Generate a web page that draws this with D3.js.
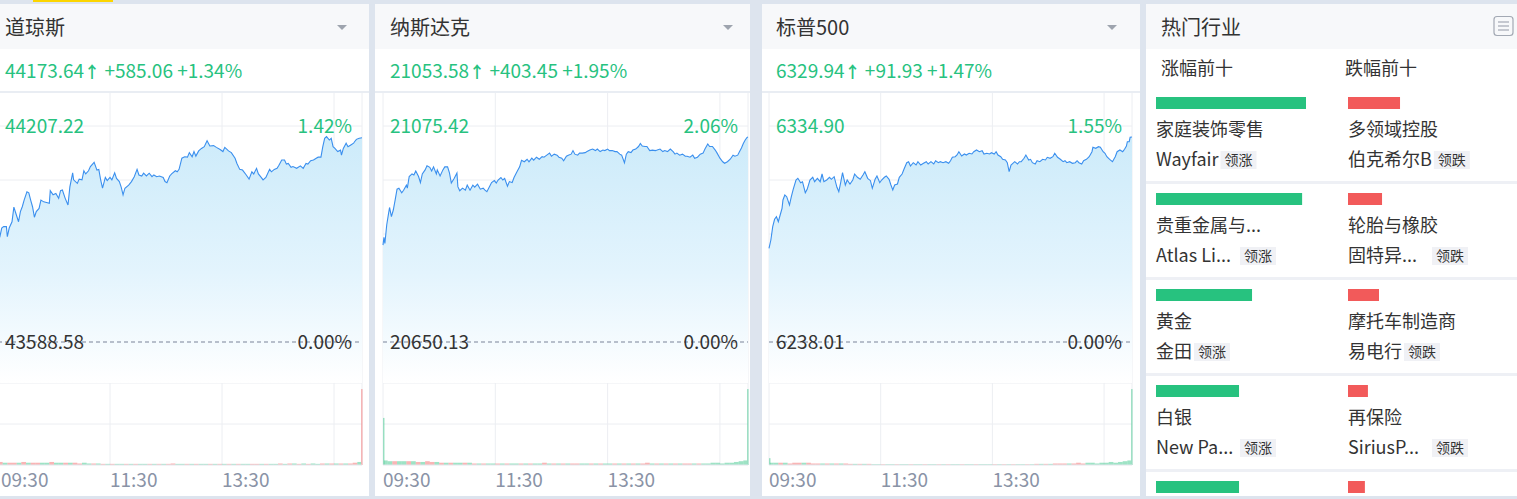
<!DOCTYPE html>
<html><head><meta charset="utf-8">
<script src="https://cdn.jsdelivr.net/npm/d3@7"></script>
<style>
body{margin:0;background:#dde4ee;overflow:hidden}
svg{display:block}
text{font-family:"Noto Sans CJK SC","Noto Sans",sans-serif;white-space:pre}
</style></head>
<body><svg id="c" width="1517" height="499"></svg>
<script>
// ---------------- DATA ----------------
const indexNames = ["道琼斯", "纳斯达克", "标普500"];
const prevClose = [43588.58, 20650.13, 6238.01];
const lastPrice = [44173.64, 21053.58, 6329.94];
const changeAbs = [585.06, 403.45, 91.93];
const changePct = [1.34, 1.95, 1.47];
const scaleMax = [44207.22, 21075.42, 6334.90];
const scaleMaxPct = [1.42, 2.06, 1.55];
const timeTickLabels = ["09:30", "11:30", "13:30"];
const gridMinutes = [120, 240, 360];
const sessionMinutes = 390;

// [minute from 09:30, price]
const dowSeries = [[0,43880],[2,43890],[4,43915],[6,43919],[9,43919],[10,43890],[12,43915],[15,43933],[17,43975],[19,43958],[22,43933],[24,43962],[26,43976],[28,43995],[31,44019],[33,44016],[35,43995],[37,43976],[39,43946],[41,43962],[44,43971],[46,43995],[49,43990],[52,43988],[55,43986],[56,44022],[59,44010],[62,44014],[65,44000],[67,44022],[69,44024],[72,44000],[75,43981],[77,44033],[80,44073],[81,44053],[85,44043],[87,44055],[90,44053],[92,44079],[94,44070],[97,44079],[99,44091],[103,44103],[106,44081],[108,44083],[110,44053],[112,44029],[115,44060],[117,44051],[120,44060],[122,44053],[125,44073],[127,44057],[130,44048],[132,44032],[134,44010],[136,44029],[140,44038],[143,44048],[146,44062],[149,44083],[151,44067],[154,44064],[156,44072],[159,44064],[162,44072],[165,44062],[167,44067],[170,44062],[173,44064],[177,44060],[179,44048],[181,44045],[184,44064],[186,44070],[190,44079],[192,44076],[194,44083],[197,44115],[200,44119],[203,44118],[205,44131],[208,44119],[210,44134],[212,44121],[215,44136],[218,44143],[221,44148],[224,44165],[227,44150],[231,44151],[234,44146],[238,44140],[241,44134],[243,44146],[247,44136],[250,44131],[254,44115],[256,44100],[259,44083],[262,44081],[266,44067],[269,44055],[272,44076],[274,44070],[277,44086],[279,44070],[282,44060],[284,44053],[287,44060],[291,44083],[293,44076],[296,44083],[299,44086],[301,44095],[304,44110],[307,44110],[309,44098],[311,44100],[314,44089],[316,44091],[320,44086],[324,44093],[327,44086],[330,44100],[332,44098],[335,44108],[338,44110],[341,44115],[343,44118],[346,44118],[348,44148],[350,44172],[352,44177],[355,44167],[357,44172],[359,44148],[361,44143],[364,44134],[367,44138],[368,44124],[370,44143],[373,44158],[375,44148],[378,44153],[381,44158],[382,44162],[384,44169],[387,44172],[390,44173.64]];

const ndxSeries = [[0,20841],[1,20856],[2,20844],[4,20881],[6,20904],[7,20915],[9,20897],[11,20910],[13,20930],[15,20951],[17,20953],[20,20944],[22,20949],[25,20959],[26,20953],[28,20976],[31,20981],[33,20979],[35,20987],[38,20976],[40,20964],[42,20981],[45,20989],[47,20997],[50,20994],[52,20987],[54,20995],[57,20981],[58,20989],[61,20977],[64,20989],[66,20995],[69,20995],[71,20983],[73,20963],[76,20972],[79,20983],[80,20956],[82,20948],[85,20953],[88,20949],[90,20959],[93,20949],[96,20959],[98,20955],[101,20961],[104,20951],[107,20953],[109,20949],[111,20946],[114,20957],[116,20964],[119,20968],[121,20963],[123,20969],[126,20974],[128,20969],[130,20972],[133,20957],[135,20966],[138,20964],[140,20974],[143,20985],[146,20995],[148,21008],[151,21005],[154,21010],[156,21005],[159,21012],[161,21008],[164,21014],[167,21010],[170,21015],[172,21014],[175,21018],[178,21022],[180,21016],[183,21020],[186,21018],[188,21014],[191,21012],[193,21007],[196,21016],[198,21018],[201,21020],[203,21027],[205,21020],[208,21018],[210,21022],[213,21022],[216,21023],[218,21025],[221,21028],[224,21030],[227,21027],[229,21030],[232,21025],[235,21028],[237,21027],[240,21030],[242,21027],[245,21027],[248,21025],[250,21025],[253,21020],[255,21018],[258,21003],[260,21020],[262,21025],[265,21023],[267,21028],[270,21030],[273,21035],[275,21041],[277,21036],[280,21035],[282,21035],[285,21027],[288,21028],[291,21027],[293,21028],[296,21030],[299,21025],[301,21027],[304,21025],[307,21030],[310,21025],[312,21020],[314,21022],[317,21018],[320,21020],[323,21016],[325,21016],[328,21014],[331,21018],[333,21012],[336,21014],[339,21020],[342,21022],[344,21030],[347,21040],[349,21035],[352,21035],[355,21028],[357,21022],[360,21012],[363,21005],[365,21002],[368,21005],[371,21010],[374,21018],[376,21016],[379,21018],[381,21025],[383,21032],[385,21041],[387,21048],[389,21053],[390,21053.58]];

const spxSeries = [[0,6280.04],[2,6283.76],[4,6289.73],[6,6293.05],[8,6294.21],[10,6291.97],[12,6294.98],[14,6297.98],[15,6301.71],[17,6303.95],[19,6303.19],[22,6299.46],[24,6303.19],[26,6306.50],[29,6310.68],[31,6311.44],[34,6309.47],[36,6309.91],[39,6304.98],[41,6306.50],[44,6310.68],[47,6311.89],[49,6309.91],[52,6311.44],[55,6309.91],[57,6313.37],[59,6309.91],[62,6310.68],[65,6311.89],[67,6310.99],[70,6312.16],[73,6307.40],[75,6305.43],[77,6309.47],[79,6313.95],[82,6308.43],[84,6310.68],[87,6308.88],[90,6310.68],[92,6313.37],[95,6311.89],[98,6310.99],[101,6312.92],[103,6314.40],[106,6311.44],[109,6310.36],[111,6306.95],[114,6310.99],[116,6312.47],[119,6309.47],[121,6310.68],[124,6311.89],[126,6312.47],[129,6310.99],[131,6308.43],[133,6306.19],[135,6308.43],[138,6308.88],[140,6311.89],[143,6313.37],[145,6315.48],[148,6318.44],[150,6318.89],[152,6316.96],[155,6318.44],[158,6317.41],[160,6318.89],[163,6317.41],[166,6318.17],[169,6318.89],[171,6317.85],[174,6318.89],[177,6317.85],[179,6319.33],[182,6318.44],[184,6318.89],[187,6318.44],[190,6318.89],[193,6318.17],[195,6319.33],[197,6320.86],[200,6321.13],[202,6321.89],[204,6323.37],[207,6321.44],[210,6322.34],[212,6321.89],[215,6322.65],[218,6322.34],[220,6323.37],[223,6324.13],[226,6323.37],[229,6323.82],[231,6322.34],[234,6322.65],[237,6322.34],[239,6322.92],[242,6322.34],[244,6323.37],[246,6321.89],[249,6321.13],[251,6319.96],[254,6319.65],[256,6318.44],[258,6314.40],[260,6317.41],[262,6318.17],[264,6318.89],[267,6317.85],[269,6318.89],[271,6318.89],[274,6320.41],[276,6321.89],[279,6319.65],[281,6319.96],[283,6318.44],[286,6317.85],[288,6319.33],[291,6318.89],[294,6319.96],[297,6319.65],[299,6320.86],[302,6320.41],[305,6321.13],[307,6322.65],[310,6320.86],[313,6319.96],[316,6318.89],[318,6319.33],[320,6318.44],[323,6318.89],[326,6318.17],[329,6318.44],[331,6319.33],[333,6318.44],[336,6317.85],[338,6319.33],[341,6319.96],[344,6321.13],[347,6323.37],[348,6325.34],[351,6324.90],[354,6325.61],[356,6325.34],[359,6323.37],[361,6322.65],[363,6321.13],[366,6319.96],[369,6318.89],[372,6321.13],[374,6323.37],[377,6324.13],[380,6323.37],[382,6324.45],[384,6325.93],[385,6327.86],[387,6327.86],[388,6329.83],[390,6329.94]];

// volume slots (minute from open); signed volume: + up (green), - down (red)
const volMinutes = [0,1,5,10,15,20,25,30,35,40,45,50,55,60,65,70,75,80,85,90,95,100,105,110,115,120,125,130,135,140,145,150,155,160,165,170,175,180,185,190,195,200,205,210,215,220,225,230,235,240,245,250,255,260,265,270,275,280,285,290,295,300,305,310,315,320,325,330,335,340,345,350,355,360,365,370,375,380,385,389];
const dowVolume = [4,-4,3,-3,-3,3,-4,3,-3,-3, 3,3,-4,3,3,-3,3,-3,-2,3, 2,-2,2,-1.5,1.5,-1.5,1.5,1.5,-1.5,1.5, -1.5,1.5,1.5,-1.5,1.5,-1.5,1.5,-1.5,-2,1.5, 1.5,-1.5,1.5,-1.5,1.5,1.5,-1.5,1.5,-1.5,1.5, -1.5,1.5,-1.5,1.5,1.5,-1.5,-1.5,1.5,-1.5,1.5, 1.5,-2,1.5,-2,2,-1.5,2,-1.5,2,1.5, -2,2,-2,2,-2,2,-2,-3,4,-100];
const ndxVolume = [62,6,5,-5,5,5,-5,5,-4,4, -5,-4,4,-3,3,-3,3,3,-3,3, -2,2,-2,2,2,-2,2,-2,2,2, -2,2,-2,2,2,-3,2,-2,2,-2, 2,-2,-2,2,2,-2,2,-2,2,2, -2,2,-2,2,-2,2,-2,-3,2,-2, 2,-2,2,-2,2,-2,-2,2,-2,2, 2,3,3,2,3,3,4,5,6,100];
const spxVolume = [9,3,3,-3,3,-2,-3,-3,3,-3, -2,-2,2,-2,2,-2,2,-2,-1.5,1.5, -1.5,1.5,-1.5,1,1,-1,1,1,-1,1, 1,-1,1,1,-1,1,1,-1,1,-1, 1,1,-1,1,1,-1,1,1,1,-1, 1,-1,1,-1,1,1,-1,1,-1.5,1.5, -1.5,1.5,-2,-2,-2,2,-2,-3,-2,3, 3,2,3,3,4,3,4,5,6,100];

// hot industries
const panelTitle = "热门行业";
const gainHeader = "涨幅前十";
const lossHeader = "跌幅前十";
const gainSectors = ["家庭装饰零售", "贵重金属与...", "黄金", "白银", ""];
const gainPct = [5.42, 5.28, 3.47, 3.00, 3.00];
const gainLeaders = ["Wayfair", "Atlas Li...", "金田", "New Pa...", ""];
const lossSectors = ["多领域控股", "轮胎与橡胶", "摩托车制造商", "再保险", ""];
const lossPct = [-1.88, -1.23, -1.12, -0.72, -0.61];
const lossLeaders = ["伯克希尔B", "固特异...", "易电行", "SiriusP...", ""];
const leadUpTag = "领涨";
const leadDownTag = "领跌";

// ---------------- DRAW ----------------
const svg = d3.select("#c");
const GREEN = "#27c27f", RED = "#f25a5a", BLUE = "#3a8fee", GRID = "#eceef2", DARK = "#333333";
const PT = 4, HEAD_B = 49, SEP_Y = 91, PRICE_TOP = 126, BASE_Y = 342, PRICE_BOT = 383, VOL_BOT = 465, PANEL_BOT = 496;
const layouts = [
  {px: -9, pw: 378, cl: -2, cr: 362},
  {px: 375, pw: 375, cl: 383, cr: 748},
  {px: 762, pw: 378, cl: 769, cr: 1132}
];
const seriesList = [dowSeries, ndxSeries, spxSeries];
const volList = [dowVolume, ndxVolume, spxVolume];

svg.append("rect").attr("x", 33).attr("y", 0).attr("width", 80).attr("height", 2).attr("fill", "#fcd500");

const defs = svg.append("defs");

indexNames.forEach((name, i) => {
  const L = layouts[i];
  const g = svg.append("g");
  g.append("rect").attr("x", L.px).attr("y", PT).attr("width", L.pw).attr("height", PANEL_BOT - PT).attr("fill", "#fff");
  g.append("rect").attr("x", L.px).attr("y", PT).attr("width", L.pw).attr("height", HEAD_B - PT).attr("fill", "#f7f8fa");
  g.append("rect").attr("x", L.px).attr("y", SEP_Y).attr("width", L.pw).attr("height", 2).attr("fill", "#e9edf3");

  g.append("text").attr("x", L.cl + 7).attr("y", 35).attr("font-size", 20).attr("fill", DARK).text(name);
  g.append("path").attr("d", `M${L.cr - 25},25 L${L.cr - 15},25 L${L.cr - 20},30 Z`).attr("fill", "#9ea4ae");

  const vt = g.append("text").attr("x", L.cl + 7).attr("y", 78).attr("font-size", 19).attr("fill", GREEN);
  vt.append("tspan").text(lastPrice[i].toFixed(2));
  vt.append("tspan").attr("font-weight", "bold").attr("font-size", 16).text("↑");
  vt.append("tspan").text(` +${changeAbs[i].toFixed(2)} +${changePct[i].toFixed(2)}%`);

  const x = d3.scaleLinear().domain([0, sessionMinutes]).range([L.cl, L.cr]);
  const y = d3.scaleLinear().domain([prevClose[i], scaleMax[i]]).range([BASE_Y, PRICE_TOP]);
  const vols = volList[i];
  const yv = d3.scaleLinear().domain([0, d3.max(vols, v => Math.abs(v)) * 1.08]).range([VOL_BOT, PRICE_BOT]);

  // grid
  const gy = [1, 0.75, 0.5, 0.25].map(f => y(prevClose[i] + f * (scaleMax[i] - prevClose[i])));
  [...gy, PRICE_BOT, (PRICE_BOT + VOL_BOT) / 2].forEach(yy => {
    g.append("line").attr("x1", L.cl).attr("x2", L.cr).attr("y1", yy).attr("y2", yy).attr("stroke", GRID);
  });
  [0, ...gridMinutes, sessionMinutes].forEach(m => {
    g.append("line").attr("x1", x(m)).attr("x2", x(m)).attr("y1", SEP_Y + 2).attr("y2", VOL_BOT).attr("stroke", GRID);
  });

  // area + line
  const gid = "grad" + i;
  const grad = defs.append("linearGradient").attr("id", gid).attr("x1", 0).attr("y1", 0).attr("x2", 0).attr("y2", 1);
  grad.append("stop").attr("offset", "0%").attr("stop-color", "#cdebfa");
  grad.append("stop").attr("offset", "55%").attr("stop-color", "#e3f4fd");
  grad.append("stop").attr("offset", "100%").attr("stop-color", "#ffffff");
  const data = seriesList[i];
  g.append("path").datum(data)
    .attr("d", d3.area().x(d => x(d[0])).y0(PRICE_BOT).y1(d => y(d[1])))
    .attr("fill", `url(#${gid})`);
  g.append("path").datum(data)
    .attr("d", d3.line().x(d => x(d[0])).y(d => y(d[1])))
    .attr("fill", "none").attr("stroke", BLUE).attr("stroke-width", 1.1);

  // baseline
  g.append("line").attr("x1", L.cl).attr("x2", L.cr).attr("y1", BASE_Y).attr("y2", BASE_Y)
    .attr("stroke", "#7a8399").attr("stroke-dasharray", "4,3");

  // labels
  g.append("text").attr("x", L.cl + 7).attr("y", 133).attr("font-size", 19).attr("fill", GREEN).text(scaleMax[i].toFixed(2));
  g.append("text").attr("x", L.cr - 10).attr("y", 133).attr("text-anchor", "end").attr("font-size", 19).attr("fill", GREEN).text(scaleMaxPct[i].toFixed(2) + "%");
  g.append("text").attr("x", L.cl + 7).attr("y", 349).attr("font-size", 19).attr("fill", DARK).text(prevClose[i].toFixed(2));
  g.append("text").attr("x", L.cr - 10).attr("y", 349).attr("text-anchor", "end").attr("font-size", 19).attr("fill", DARK).text("0.00%");

  // volume
  vols.forEach((v, k) => {
    const m0 = volMinutes[k];
    const m1 = k < volMinutes.length - 1 ? volMinutes[k + 1] : sessionMinutes;
    const w = Math.max(x(m1) - x(m0), 1.5);
    g.append("rect").attr("x", x(m0)).attr("width", w)
      .attr("y", yv(Math.abs(v))).attr("height", VOL_BOT - yv(Math.abs(v)))
      .attr("fill", v >= 0 ? GREEN : RED).attr("fill-opacity", 0.45);
  });
  g.append("line").attr("x1", L.cl).attr("x2", L.cr).attr("y1", VOL_BOT).attr("y2", VOL_BOT).attr("stroke", "#e3e6ec");

  // time labels
  [0, ...gridMinutes].slice(0, timeTickLabels.length).forEach((m, k) => {
    g.append("text").attr("x", Math.max(x(m), 1)).attr("y", 487).attr("font-size", 19).attr("fill", "#8a93a6").text(timeTickLabels[k]);
  });
});

// ---------------- HOT INDUSTRIES ----------------
const P4 = {px: 1146, pw: 380};
const h = svg.append("g");
h.append("rect").attr("x", P4.px).attr("y", PT).attr("width", P4.pw).attr("height", PANEL_BOT - PT).attr("fill", "#fff");
h.append("rect").attr("x", P4.px).attr("y", PT).attr("width", P4.pw).attr("height", HEAD_B - PT).attr("fill", "#f7f8fa");
h.append("text").attr("x", 1161).attr("y", 35).attr("font-size", 20).attr("fill", DARK).text(panelTitle);
h.append("rect").attr("x", 1494).attr("y", 16.5).attr("width", 19).attr("height", 19).attr("rx", 3)
  .attr("fill", "none").attr("stroke", "#a3a9b4").attr("stroke-width", 1.2);
[22, 26, 30].forEach(yy => h.append("line").attr("x1", 1498).attr("x2", 1509).attr("y1", yy).attr("y2", yy).attr("stroke", "#a3a9b4").attr("stroke-width", 1.2));
h.append("text").attr("x", 1161).attr("y", 75).attr("font-size", 18).attr("fill", DARK).text(gainHeader);
h.append("text").attr("x", 1345).attr("y", 75).attr("font-size", 18).attr("fill", DARK).text(lossHeader);

const barX = d3.scaleLinear().domain([0, d3.max([...gainPct, ...lossPct], v => Math.abs(v))]).range([0, 150]);
const rowY = d3.scaleLinear().domain([0, 1]).range([97, 193]);
const cols = [
  {x: 1156, sectors: gainSectors, pct: gainPct, leaders: gainLeaders, color: GREEN, tag: leadUpTag},
  {x: 1348, sectors: lossSectors, pct: lossPct, leaders: lossLeaders, color: RED, tag: leadDownTag}
];
gainPct.forEach((_, r) => {
  const top = rowY(r);
  if (r > 0) h.append("rect").attr("x", P4.px).attr("y", top - 12).attr("width", P4.pw).attr("height", 3).attr("fill", "#eef0f5");
  cols.forEach(c => {
    h.append("rect").attr("x", c.x).attr("y", top).attr("width", barX(Math.abs(c.pct[r]))).attr("height", 12).attr("fill", c.color);
    if (c.sectors[r]) h.append("text").attr("x", c.x).attr("y", top + 39).attr("font-size", 18).attr("fill", DARK).text(c.sectors[r]);
    if (c.leaders[r]) {
      const t = h.append("text").attr("x", c.x).attr("y", top + 69).attr("font-size", 18).attr("fill", DARK).text(c.leaders[r]);
      const tw = t.node().getComputedTextLength();
      const tx = c.leaders[r].endsWith("...") ? c.x + 84 : c.x + tw + 2;
      h.append("rect").attr("x", tx).attr("y", top + 54).attr("width", 36).attr("height", 18).attr("fill", "#f0f1f5");
      h.append("text").attr("x", tx + 18).attr("y", top + 68).attr("text-anchor", "middle").attr("font-size", 14).attr("fill", DARK).text(c.tag);
    }
  });
});
</script></body></html>
